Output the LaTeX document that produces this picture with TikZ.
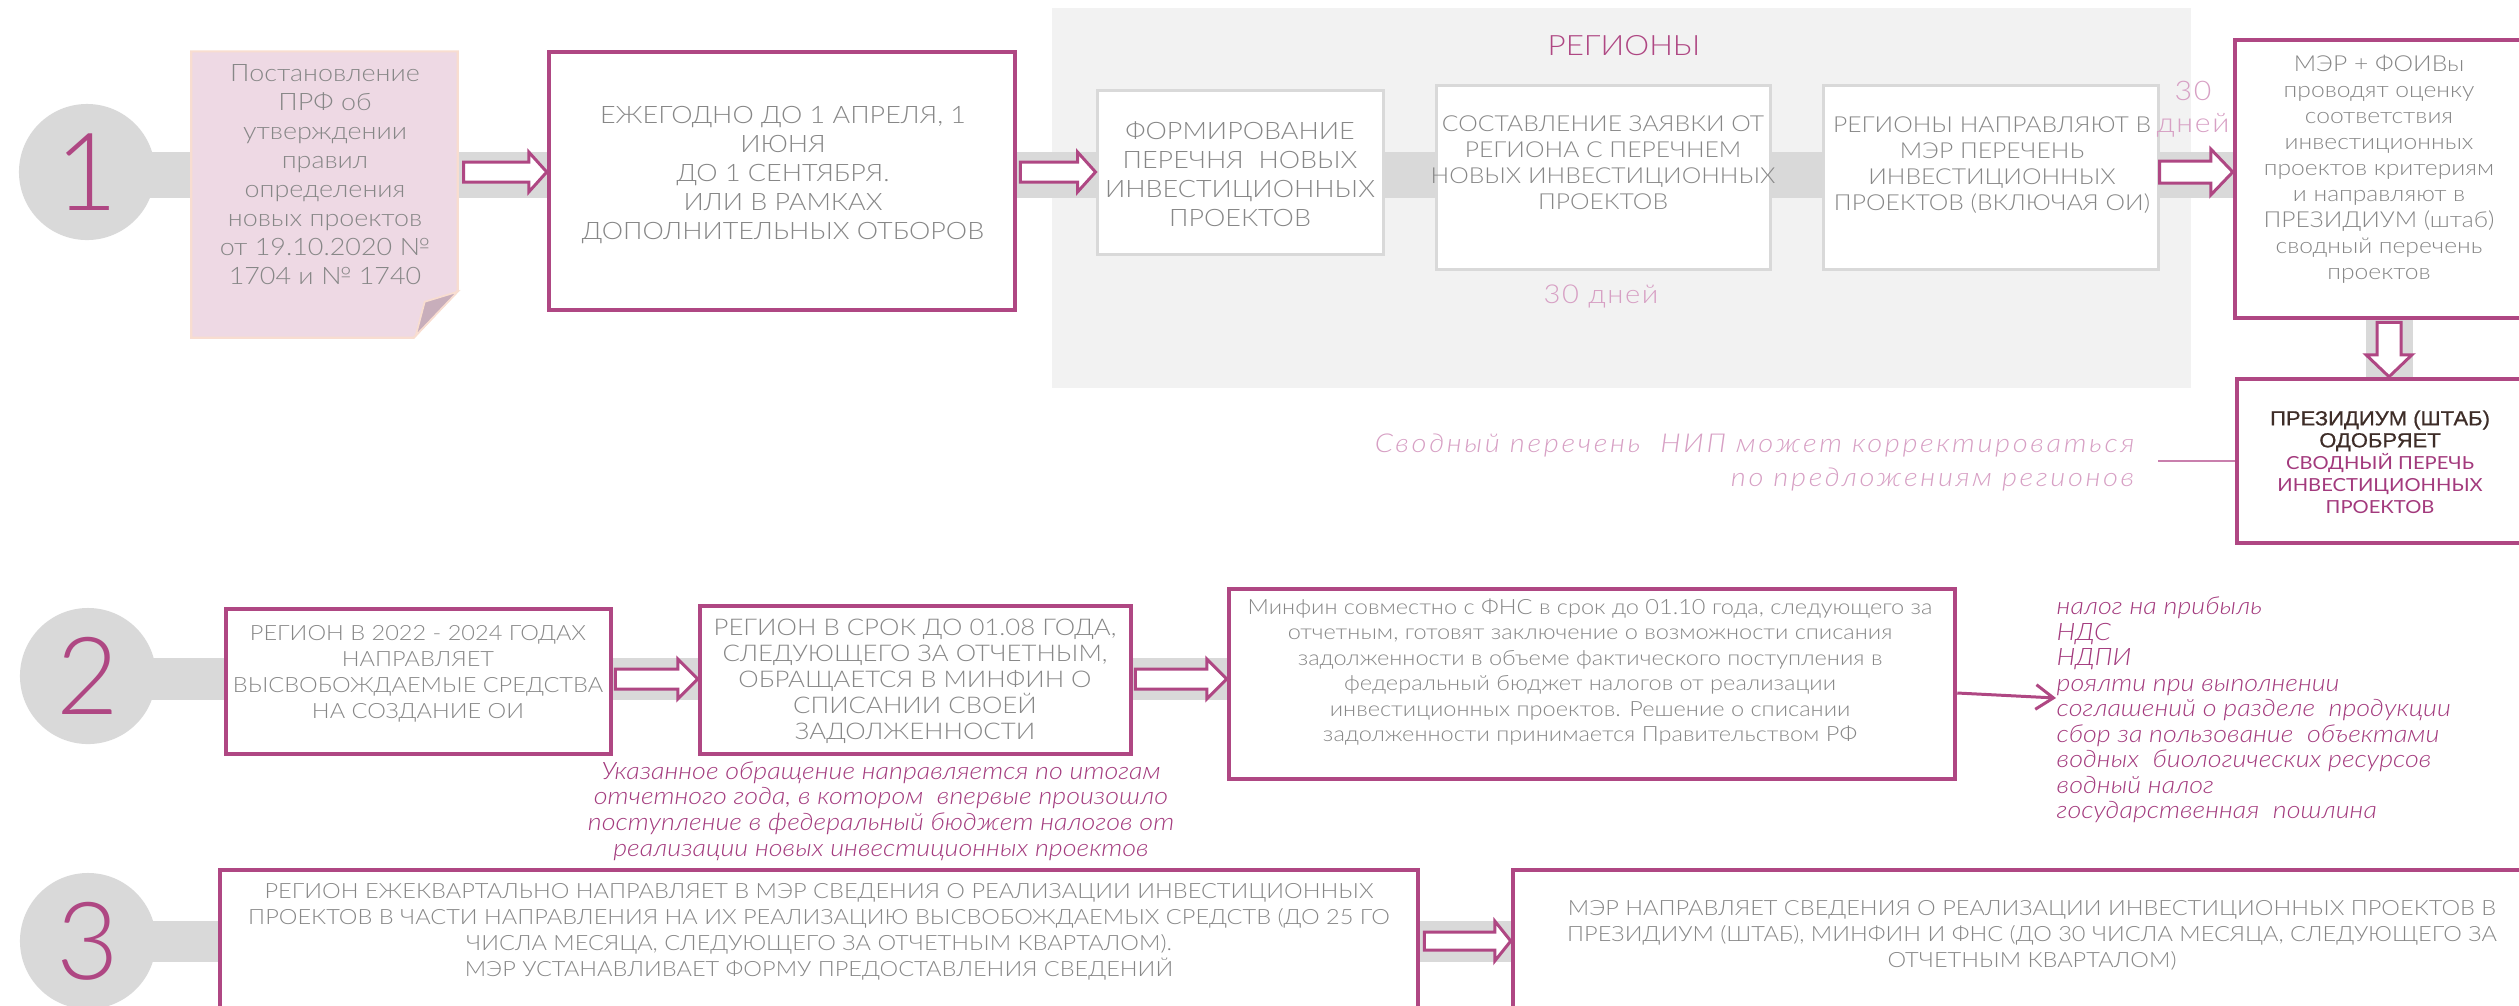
\documentclass[tikz,border=0pt]{standalone}
\usepackage{fontspec}
\setmainfont{Lato}[UprightFont={* Light}, ItalicFont={* Light Italic}, BoldFont={* Bold}, FakeStretch=1.12]
\newfontfamily\latoreg{Lato}[FakeStretch=1.12]
\newfontfamily\numfont{Lato}[UprightFont={* Light}]
\newfontfamily\arialf{Liberation Sans}[FakeStretch=1.08, FakeBold=0.6]
\usetikzlibrary{calc,fit,arrows.meta}
\definecolor{mag}{HTML}{AF4783}
\definecolor{magtxt}{HTML}{A33A7D}
\definecolor{pinktxt}{HTML}{D7A0C4}
\definecolor{pinkline}{HTML}{C97FAD}
\definecolor{gtxt}{HTML}{878787}
\definecolor{gbar}{HTML}{D9D9D9}
\definecolor{panelc}{HTML}{F2F2F2}
\definecolor{notefill}{HTML}{EED9E4}
\definecolor{noteedge}{HTML}{F8DDD0}
\definecolor{foldc}{HTML}{C8AEBB}
\definecolor{darktxt}{HTML}{3E2D28}
\pgfdeclarelayer{panellayer}
\pgfdeclarelayer{barlayer}
\pgfsetlayers{panellayer,barlayer,main}
\newcommand\harrow[5]{\draw[barrow] ($#1+(0,-#3)$) -- ($#2+(-#5,-#3)$) -- ($#2+(-#5,-#4)$) -- #2 -- ($#2+(-#5,#4)$) -- ($#2+(-#5,#3)$) -- ($#1+(0,#3)$) -- cycle;}
\newcommand\varrow[5]{\draw[barrow] ($#1+(-#3,0)$) -- ($#2+(-#3,-#5)$) -- ($#2+(-#4,-#5)$) -- #2 -- ($#2+(#4,-#5)$) -- ($#2+(#3,-#5)$) -- ($#1+(#3,0)$) -- cycle;}
\begin{document}
\begin{tikzpicture}[x=0.01cm,y=-0.01cm,
  mbox/.style={draw=mag, line width=1.28pt, fill=white, inner sep=0pt},
  gbox/.style={draw=gbar, line width=0.85pt, fill=white, inner sep=0pt},
  barrow/.style={draw=mag, fill=white, line width=0.85pt, line join=miter},
  bar/.style={draw=gbar, line width=#1},
  circ/.style={circle, fill=gbar, minimum size=1.36cm, inner sep=0pt},
  numtxt/.style={text=mag, inner sep=0pt, font=\numfont\fontsize{30.7pt}{30.7pt}\selectfont},
  txt/.style={text=gtxt, align=center, inner sep=0pt},
  big/.style={font=\fontsize{6.83pt}{8.25pt}\selectfont},
  mid/.style={font=\fontsize{6.26pt}{7.40pt}\selectfont},
  sml/.style={font=\fontsize{5.98pt}{7.40pt}\selectfont},
  itl/.style={text=magtxt, inner sep=0pt, font=\itshape\fontsize{6.83pt}{7.26pt}\selectfont}
]
\useasboundingbox (0,0) rectangle (2519,1005);
\clip (0,0) rectangle (2519,1005);

% ---------- row 1 ----------
\node[inner sep=0pt, fit={(192,52) (457,337)}] (note) {};
\draw[fill=notefill, draw=noteedge, line width=0.6pt]
  (note.north west) -- (note.north east) -- ($(note.south east)+(0,-47)$)
  -- ($(note.south east)+(-44,0)$) -- (note.south west) -- cycle;
\draw[fill=foldc, draw=noteedge, line width=0.5pt]
  ($(note.south east)+(0,-46)$) -- ($(note.south east)+(-33,-36)$) -- ($(note.south east)+(-42,-2)$) -- cycle;

\node[mbox, fit={(549,52) (1015,310)}] (b1) {};
\begin{pgfonlayer}{panellayer}
\node[fill=panelc, inner sep=0pt, fit={(1052,8) (2191,388)}] (panel) {};
\end{pgfonlayer}
\node[gbox, fit={(1097,90) (1383,254)}] (f1) {};
\node[gbox, fit={(1436,85) (1770,269)}] (f2) {};
\node[gbox, fit={(1823,85) (2158,269)}] (f3) {};
\node[mbox, fit={(2235,40) (2570,318)}] (mer) {};
\node[mbox, fit={(2237,379) (2570,543)}] (pres) {};

\node[circ] (c1) at (87,172) {};
\coordinate (r1) at (87,175);
\coordinate (ar1) at (87,172);
\coordinate (vx) at (2389,0);

\coordinate (a1s) at ($(note.east |- ar1)+(6,0)$);
\harrow{(a1s)}{(b1.west |- ar1)}{10}{20}{18}
\coordinate (a2s) at ($(b1.east |- ar1)+(3,0)$);
\harrow{(a2s)}{(f1.west |- ar1)}{10}{20}{18}
\coordinate (a3s) at (f3.east |- ar1);
\harrow{(a3s)}{(mer.west |- ar1)}{11}{23}{22}
\coordinate (v1s) at ($(mer.south -| vx)+(0,2)$);
\varrow{(v1s)}{(pres.north -| vx)}{12}{23}{22}

\node[numtxt] (n1) at (c1) {1};
\node[txt, big] (tnote) at (325,175) {Постановление\\ПРФ об\\утверждении\\правил\\определения\\новых проектов\\от 19.10.2020 №\\1704 и № 1740};
\node[txt, big] (tb1) at (783,175) {ЕЖЕГОДНО ДО 1 АПРЕЛЯ, 1\\ИЮНЯ\\ДО 1 СЕНТЯБРЯ.\\ИЛИ В РАМКАХ\\ДОПОЛНИТЕЛЬНЫХ ОТБОРОВ};
\node[text=mag, inner sep=0pt, font=\fontsize{7.97pt}{7.97pt}\selectfont] (treg) at (1624,46) {РЕГИОНЫ};
\node[txt, big] (tf1) at (1240,174) {ФОРМИРОВАНИЕ\\ПЕРЕЧНЯ~ НОВЫХ\\ИНВЕСТИЦИОННЫХ\\ПРОЕКТОВ};
\node[txt, mid] (tf2) at (1603,163) {СОСТАВЛЕНИЕ ЗАЯВКИ ОТ\\РЕГИОНА С ПЕРЕЧНЕМ\\НОВЫХ ИНВЕСТИЦИОННЫХ\\ПРОЕКТОВ};
\node[txt, mid] (tf3) at (1992,165) {РЕГИОНЫ НАПРАВЛЯЮТ В\\МЭР ПЕРЕЧЕНЬ\\ИНВЕСТИЦИОННЫХ\\ПРОЕКТОВ (ВКЛЮЧАЯ ОИ)};
\node[text=pinktxt, inner sep=0pt, font=\fontsize{7.40pt}{7.40pt}\selectfont\addfontfeature{LetterSpace=6}] (t30a) at (1601,296) {30 дней};
\node[text=pinktxt, inner sep=0pt, align=center, font=\fontsize{7.68pt}{9.1pt}\selectfont\addfontfeature{LetterSpace=6}] (t30b) at (2193,109) {30\\дней};
\node[txt, mid] (tmer) at (2379,169) {МЭР + ФОИВы\\проводят оценку\\соответствия\\инвестиционных\\проектов критериям\\и направляют в\\ПРЕЗИДИУМ (штаб)\\сводный перечень\\проектов};
\node[inner sep=0pt, align=center, font=\fontsize{5.12pt}{6.26pt}\selectfont] (tpres) at (2380,462)
  {\arialf\fontsize{5.8pt}{6.26pt}\selectfont\color{darktxt}ПРЕЗИДИУМ (ШТАБ)\\\arialf\fontsize{5.8pt}{6.26pt}\selectfont\color{darktxt}ОДОБРЯЕТ\\\latoreg\color{magtxt}СВОДНЫЙ ПЕРЕЧЬ\\\latoreg\color{magtxt}ИНВЕСТИЦИОННЫХ\\\latoreg\color{magtxt}ПРОЕКТОВ};
\node[anchor=east, text=pinktxt, align=right, inner sep=0pt, font=\itshape\fontsize{7.40pt}{9.67pt}\selectfont\addfontfeature{LetterSpace=10}] (tlbl) at (2135,462)
  {Сводный перечень~ НИП может корректироваться\\по предложениям регионов};
\coordinate (lk) at (2158,461);
\draw[pinkline, line width=0.6pt] (lk) -- (pres.west);

% ---------- row 2 ----------
\node[mbox, fit={(226,609) (611,754)}] (r2a) {};
\node[mbox, fit={(700,606) (1131,754)}] (r2b) {};
\node[mbox, fit={(1229,589) (1955,779)}] (mf) {};
\node[circ] (c2) at (88,676) {};
\coordinate (r2) at (88,679);
\coordinate (b2s) at ($(r2a.east |- r2)+(2,0)$);
\harrow{(b2s)}{(r2b.west |- r2)}{10}{20}{20}
\coordinate (b3s) at ($(r2b.east |- r2)+(2,0)$);
\harrow{(b3s)}{(mf.west |- r2)}{10}{20}{20}
\node[numtxt] (n2) at (c2) {2};
\node[txt, sml] (tr2a) at (418,674) {РЕГИОН В 2022 - 2024 ГОДАХ\\НАПРАВЛЯЕТ\\ВЫСВОБОЖДАЕМЫЕ СРЕДСТВА\\НА СОЗДАНИЕ ОИ};
\node[txt, font=\fontsize{6.54pt}{7.40pt}\selectfont] (tr2b) at (915,681) {РЕГИОН В СРОК ДО 01.08 ГОДА,\\СЛЕДУЮЩЕГО ЗА ОТЧЕТНЫМ,\\ОБРАЩАЕТСЯ В МИНФИН О\\СПИСАНИИ СВОЕЙ\\ЗАДОЛЖЕННОСТИ};
\node[txt, font=\fontsize{5.98pt}{7.26pt}\selectfont] (tmf) at (1590,672) {Минфин совместно с ФНС в срок до 01.10 года, следующего за\\отчетным, готовят заключение о возможности списания\\задолженности в объеме фактического поступления в\\федеральный бюджет налогов от реализации\\инвестиционных проектов. Решение о списании\\задолженности принимается Правительством РФ};
\node[itl, align=center] (tit) at (881,811) {Указанное обращение направляется по итогам\\отчетного года, в котором~ впервые произошло\\поступление в федеральный бюджет налогов от\\реализации новых инвестиционных проектов};
\node[itl, align=left, anchor=west] (tlist) at (2056,710) {налог на прибыль\\НДС\\НДПИ\\роялти при выполнении\\соглашений о разделе~ продукции\\сбор за пользование~ объектами\\водных~ биологических ресурсов\\водный налог\\государственная~ пошлина};
\coordinate (ls) at ($(mf.east)+(0,9)$);
\draw[mag, line width=0.85pt, -{Straight Barb[length=5pt, width=7pt, line width=0.85pt]}] (ls) -- (tlist.west |- 0,698);

% ---------- row 3 ----------
\node[mbox, fit={(220,870) (1418,1040)}] (r3a) {};
\node[mbox, fit={(1513,870) (2570,1040)}] (r3b) {};
\node[circ] (c3) at (88,941) {};
\coordinate (r3) at (88,941);
\coordinate (d1s) at ($(r3a.east |- r3)+(4,0)$);
\harrow{(d1s)}{(r3b.west |- r3)}{9}{20}{16}
\node[numtxt] (n3) at (c3) {3};
\node[txt, sml] (tr3a) at (819,932) {РЕГИОН ЕЖЕКВАРТАЛЬНО НАПРАВЛЯЕТ В МЭР СВЕДЕНИЯ О РЕАЛИЗАЦИИ ИНВЕСТИЦИОННЫХ\\ПРОЕКТОВ В ЧАСТИ НАПРАВЛЕНИЯ НА ИХ РЕАЛИЗАЦИЮ ВЫСВОБОЖДАЕМЫХ СРЕДСТВ (ДО 25 ГО\\ЧИСЛА МЕСЯЦА, СЛЕДУЮЩЕГО ЗА ОТЧЕТНЫМ КВАРТАЛОМ).\\МЭР УСТАНАВЛИВАЕТ ФОРМУ ПРЕДОСТАВЛЕНИЯ СВЕДЕНИЙ};
\node[txt, sml] (tr3b) at (2032,935) {МЭР НАПРАВЛЯЕТ СВЕДЕНИЯ О РЕАЛИЗАЦИИ ИНВЕСТИЦИОННЫХ ПРОЕКТОВ В\\ПРЕЗИДИУМ (ШТАБ), МИНФИН И ФНС (ДО 30 ЧИСЛА МЕСЯЦА, СЛЕДУЮЩЕГО ЗА\\ОТЧЕТНЫМ КВАРТАЛОМ)};

% ---------- bars ----------
\begin{pgfonlayer}{barlayer}
\draw[bar=0.46cm] (r1) -- (mer.west |- r1);
\draw[bar=0.42cm] (r2) -- (mf.west |- r2);
\draw[bar=0.41cm] (r3) -- (r3b.west |- r3);
\draw[bar=0.47cm] (mer.south -| vx) -- (pres.north -| vx);
\end{pgfonlayer}
\end{tikzpicture}
\end{document}
